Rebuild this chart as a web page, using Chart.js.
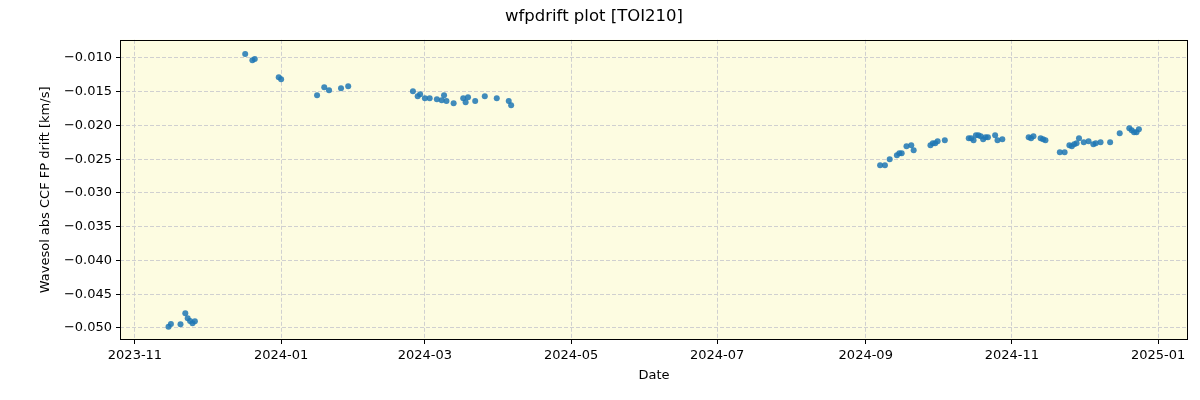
<!doctype html>
<html>
<head>
	<title>wfpdrift plot [TOI210]</title>
	<script src="https://cdn.jsdelivr.net/npm/chart.js@4/dist/chart.umd.min.js"></script>
	<style type="text/css">
		body { margin: 0; background: #fff; }
		#container { width: 1200px; height: 400px; }
	</style>
</head>
<body>
	<div id="container">
		<canvas id="canvas"></canvas>
	</div>
	<script>
		var obsDates = [
			'2023-11-15', '2023-11-16', '2023-11-20', '2023-11-22', '2023-11-23', '2023-11-24', '2023-11-25', '2023-11-26',
			'2023-12-17', '2023-12-20', '2023-12-21', '2023-12-31', '2024-01-01', '2024-01-16', '2024-01-19', '2024-01-21',
			'2024-01-26', '2024-01-29',
			'2024-02-25', '2024-02-27', '2024-02-28', '2024-03-01', '2024-03-03', '2024-03-06', '2024-03-08', '2024-03-09',
			'2024-03-10', '2024-03-13', '2024-03-17', '2024-03-18', '2024-03-19', '2024-03-22', '2024-03-26', '2024-03-31',
			'2024-04-05', '2024-04-06',
			'2024-09-07', '2024-09-09', '2024-09-11', '2024-09-14', '2024-09-15', '2024-09-16', '2024-09-18', '2024-09-20',
			'2024-09-21', '2024-09-28', '2024-09-29', '2024-09-30', '2024-10-01', '2024-10-04', '2024-10-14', '2024-10-15',
			'2024-10-16', '2024-10-17', '2024-10-18', '2024-10-19', '2024-10-20', '2024-10-21', '2024-10-22', '2024-10-25',
			'2024-10-26', '2024-10-28', '2024-11-08', '2024-11-09', '2024-11-10', '2024-11-13', '2024-11-14', '2024-11-15',
			'2024-11-21', '2024-11-23', '2024-11-25', '2024-11-26', '2024-11-27', '2024-11-28', '2024-11-29', '2024-12-01',
			'2024-12-03', '2024-12-05', '2024-12-06', '2024-12-08', '2024-12-12', '2024-12-16', '2024-12-20', '2024-12-21',
			'2024-12-22', '2024-12-23', '2024-12-24'
		];
		var driftValues = [
			-0.04981, -0.04941, -0.04945, -0.04782, -0.04856, -0.04896, -0.04930, -0.04901,
			-0.00945, -0.01034, -0.01019, -0.01286, -0.01316, -0.01553, -0.01434, -0.01479,
			-0.01449, -0.01419,
			-0.01493, -0.01567, -0.01538, -0.01597, -0.01597, -0.01612, -0.01627, -0.01553,
			-0.01641, -0.01671, -0.01597, -0.01656, -0.01582, -0.01641, -0.01567, -0.01597,
			-0.01641, -0.01701,
			-0.02590, -0.02590, -0.02501, -0.02441, -0.02412, -0.02412, -0.02308, -0.02293,
			-0.02367, -0.02293, -0.02264, -0.02264, -0.02234, -0.02219, -0.02190, -0.02190,
			-0.02219, -0.02145, -0.02145, -0.02160, -0.02204, -0.02175, -0.02175, -0.02145,
			-0.02219, -0.02204, -0.02175, -0.02190, -0.02160, -0.02190, -0.02204, -0.02219,
			-0.02397, -0.02397, -0.02293, -0.02308, -0.02279, -0.02264, -0.02190, -0.02249,
			-0.02234, -0.02279, -0.02264, -0.02249, -0.02249, -0.02116, -0.02041, -0.02071,
			-0.02101, -0.02101, -0.02056
		];
		var xTickLabels = ['2023-11', '2024-01', '2024-03', '2024-05', '2024-07', '2024-09', '2024-11', '2025-01'];
		var yTickValues = [-0.050, -0.045, -0.040, -0.035, -0.030, -0.025, -0.020, -0.015, -0.010];

		var xMin = Date.parse('2023-10-25T18:00:00Z');
		var xMax = Date.parse('2025-01-13T12:00:00Z');
		var yMin = -0.05178;
		var yMax = -0.00733;

		var points = obsDates.map(function(d, i) {
			return {x: Date.parse(d), y: driftValues[i]};
		});

		var FONT = 'DejaVu Sans';

		// plot background and black frame, like the matplotlib axes
		var frame = {
			id: 'frame',
			beforeDraw: function(chart) {
				var a = chart.chartArea, ctx = chart.ctx;
				ctx.save();
				ctx.fillStyle = '#fdfce1';
				ctx.fillRect(a.left, a.top, a.right - a.left, a.bottom - a.top);
				ctx.restore();
			},
			afterDraw: function(chart) {
				var a = chart.chartArea, ctx = chart.ctx;
				ctx.save();
				ctx.strokeStyle = '#000';
				ctx.lineWidth = 1;
				ctx.strokeRect(Math.round(a.left) + 0.5, Math.round(a.top) + 0.5,
					Math.round(a.right - a.left) - 1, Math.round(a.bottom - a.top) - 1);
				ctx.restore();
			}
		};

		window.onload = function() {
			var ctx = document.getElementById('canvas').getContext('2d');
			window.myChart = new Chart(ctx, {
				type: 'scatter',
				data: {
					datasets: [{
						label: 'wfpdrift',
						data: points,
						backgroundColor: 'rgba(31,119,180,0.85)',
						borderWidth: 0,
						pointRadius: 3,
						pointHoverRadius: 3
					}]
				},
				plugins: [frame],
				options: {
					responsive: true,
					maintainAspectRatio: false,
					animation: false,
					layout: {padding: {left: 0, right: 12, top: 0, bottom: 0}},
					plugins: {
						legend: {display: false},
						tooltip: {enabled: false},
						title: {
							display: true,
							text: 'wfpdrift plot [TOI210]',
							color: '#000',
							font: {family: FONT, size: 16.5, weight: 'normal'},
							padding: {top: 7, bottom: 13}
						}
					},
					scales: {
						x: {
							type: 'linear',
							min: xMin,
							max: xMax,
							afterBuildTicks: function(scale) {
								scale.ticks = xTickLabels.map(function(l) {
									return {value: Date.parse(l + '-01')};
								});
							},
							afterFit: function(scale) { scale.height = 60; },
							ticks: {
								color: '#000',
								font: {family: FONT, size: 13},
								padding: 4,
								maxRotation: 0,
								autoSkip: false,
								callback: function(v) {
									var d = new Date(v);
									var m = d.getUTCMonth() + 1;
									return d.getUTCFullYear() + '-' + (m < 10 ? '0' + m : m);
								}
							},
							grid: {
								color: '#d0d0d0',
								lineWidth: 1,
								tickColor: '#000',
								tickLength: 4,
								tickBorderDash: []
							},
							border: {display: false, dash: [4, 2]},
							title: {
								display: true,
								text: 'Date',
								color: '#000',
								font: {family: FONT, size: 13},
								padding: {top: 0, bottom: 17}
							}
						},
						y: {
							type: 'linear',
							min: yMin,
							max: yMax,
							afterBuildTicks: function(scale) {
								scale.ticks = yTickValues.map(function(v) { return {value: v}; });
							},
							afterFit: function(scale) { scale.width = 120; },
							ticks: {
								color: '#000',
								font: {family: FONT, size: 13},
								padding: 4,
								autoSkip: false,
								callback: function(v) {
									return v.toFixed(3).replace('-', '\u2212');
								}
							},
							grid: {
								color: '#d0d0d0',
								lineWidth: 1,
								tickColor: '#000',
								tickLength: 4,
								tickBorderDash: []
							},
							border: {display: false, dash: [4, 2]},
							title: {
								display: true,
								text: 'Wavesol abs CCF FP drift [km/s]',
								color: '#000',
								font: {family: FONT, size: 13},
								padding: {top: 38, bottom: 0}
							}
						}
					}
				}
			});
		};
	</script>
</body>
</html>
